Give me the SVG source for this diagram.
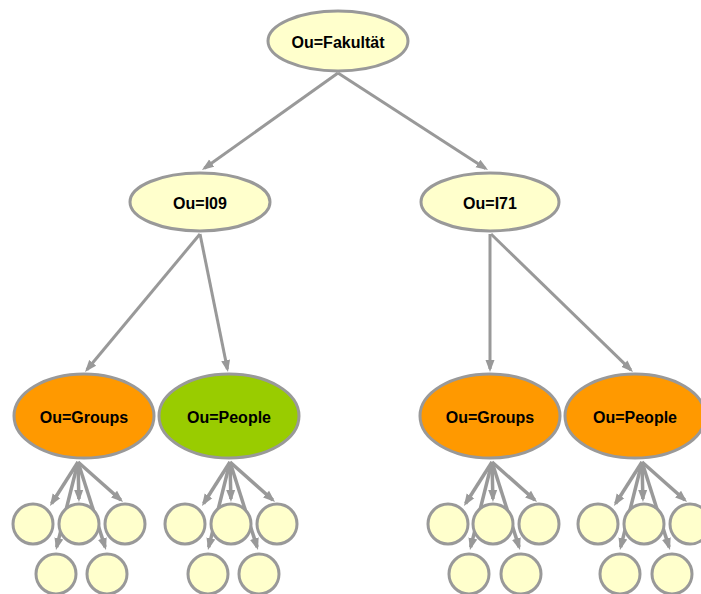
<svg xmlns="http://www.w3.org/2000/svg" width="701" height="594" viewBox="0 0 701 594">
  <style>
    .edge { stroke: #999999; stroke-width: 3; fill: none; marker-end: url(#arrow); }
    .fan .edge { stroke-width: 3.5; }
    .node { stroke: #999999; stroke-width: 3; }
    .pale { fill: #FFFFCC; }
    .orange { fill: #FF9900; }
    .green { fill: #99CC00; }
    .label { font-family: "Liberation Sans", Arial, sans-serif; font-weight: bold; font-size: 16px; text-anchor: middle; fill: #000000; }
  </style>
  <defs>
    <marker id="arrow" markerUnits="userSpaceOnUse" markerWidth="12" markerHeight="10" refX="9" refY="5" orient="auto">
      <path d="M0,0.5 L12,5 L0,9.5 z" fill="#999999"/>
    </marker>
    <!-- five arrows fanning out from an OU to its leaf entries -->
    <g id="fan" class="fan">
      <line class="edge" x1="0" y1="0" x2="-26.4" y2="41.5"/>
      <line class="edge" x1="0" y1="0" x2="0.9" y2="37"/>
      <line class="edge" x1="0" y1="0" x2="42.8" y2="38"/>
      <line class="edge" x1="0" y1="0" x2="-21.3" y2="85.1"/>
      <line class="edge" x1="0" y1="0" x2="27.1" y2="85.1"/>
    </g>
  </defs>

  <rect width="701" height="594" fill="#FFFFFF"/>

  <g id="connectors">
    <line class="edge" x1="338" y1="73" x2="204.4" y2="168.3"/>
    <line class="edge" x1="338" y1="73" x2="485.5" y2="168.4"/>
    <line class="edge" x1="200" y1="234" x2="86.9" y2="369.7"/>
    <line class="edge" x1="200" y1="234" x2="227.4" y2="369.1"/>
    <line class="edge" x1="490" y1="234" x2="490" y2="369"/>
    <line class="edge" x1="491" y1="234" x2="630.8" y2="369.9"/>
    <use href="#fan" x="78" y="462"/>
    <use href="#fan" x="230" y="462"/>
    <use href="#fan" x="492" y="462"/>
    <use href="#fan" x="642" y="462"/>
  </g>

  <g id="fakultaet">
    <ellipse class="node pale" cx="338" cy="41" rx="70" ry="30"/>
    <text class="label" x="338" y="48">Ou=Fakultät</text>
  </g>
  <g id="i09">
    <ellipse class="node pale" cx="200" cy="202" rx="70" ry="29"/>
    <text class="label" x="200" y="209">Ou=I09</text>
  </g>
  <g id="i71">
    <ellipse class="node pale" cx="490" cy="202" rx="69" ry="29"/>
    <text class="label" x="490" y="209">Ou=I71</text>
  </g>
  <g id="i09-groups">
    <ellipse class="node orange" cx="84" cy="416" rx="70" ry="42"/>
    <text class="label" x="84" y="423">Ou=Groups</text>
  </g>
  <g id="i09-people">
    <ellipse class="node green" cx="229" cy="416" rx="70" ry="42"/>
    <text class="label" x="229" y="423">Ou=People</text>
  </g>
  <g id="i71-groups">
    <ellipse class="node orange" cx="490" cy="416" rx="70" ry="42"/>
    <text class="label" x="490" y="423">Ou=Groups</text>
  </g>
  <g id="i71-people">
    <ellipse class="node orange" cx="635" cy="416" rx="70" ry="42"/>
    <text class="label" x="635" y="423">Ou=People</text>
  </g>

  <!-- leaf entries under I09 / Groups -->
  <g id="i09-groups-leaf-1"><circle class="node pale" cx="33" cy="524" r="20"/></g>
  <g id="i09-groups-leaf-2"><circle class="node pale" cx="79" cy="524" r="20"/></g>
  <g id="i09-groups-leaf-3"><circle class="node pale" cx="125" cy="524" r="20"/></g>
  <g id="i09-groups-leaf-4"><circle class="node pale" cx="56" cy="574" r="20"/></g>
  <g id="i09-groups-leaf-5"><circle class="node pale" cx="107" cy="574" r="20"/></g>

  <!-- leaf entries under I09 / People -->
  <g id="i09-people-leaf-1"><circle class="node pale" cx="185" cy="524" r="20"/></g>
  <g id="i09-people-leaf-2"><circle class="node pale" cx="231" cy="524" r="20"/></g>
  <g id="i09-people-leaf-3"><circle class="node pale" cx="277" cy="524" r="20"/></g>
  <g id="i09-people-leaf-4"><circle class="node pale" cx="208" cy="574" r="20"/></g>
  <g id="i09-people-leaf-5"><circle class="node pale" cx="259" cy="574" r="20"/></g>

  <!-- leaf entries under I71 / Groups -->
  <g id="i71-groups-leaf-1"><circle class="node pale" cx="448" cy="524" r="20"/></g>
  <g id="i71-groups-leaf-2"><circle class="node pale" cx="493" cy="524" r="20"/></g>
  <g id="i71-groups-leaf-3"><circle class="node pale" cx="539" cy="524" r="20"/></g>
  <g id="i71-groups-leaf-4"><circle class="node pale" cx="469" cy="574" r="20"/></g>
  <g id="i71-groups-leaf-5"><circle class="node pale" cx="521" cy="574" r="20"/></g>

  <!-- leaf entries under I71 / People -->
  <g id="i71-people-leaf-1"><circle class="node pale" cx="598" cy="524" r="20"/></g>
  <g id="i71-people-leaf-2"><circle class="node pale" cx="644" cy="524" r="20"/></g>
  <g id="i71-people-leaf-3"><circle class="node pale" cx="690" cy="524" r="20"/></g>
  <g id="i71-people-leaf-4"><circle class="node pale" cx="620" cy="574" r="20"/></g>
  <g id="i71-people-leaf-5"><circle class="node pale" cx="672" cy="574" r="20"/></g>
</svg>
